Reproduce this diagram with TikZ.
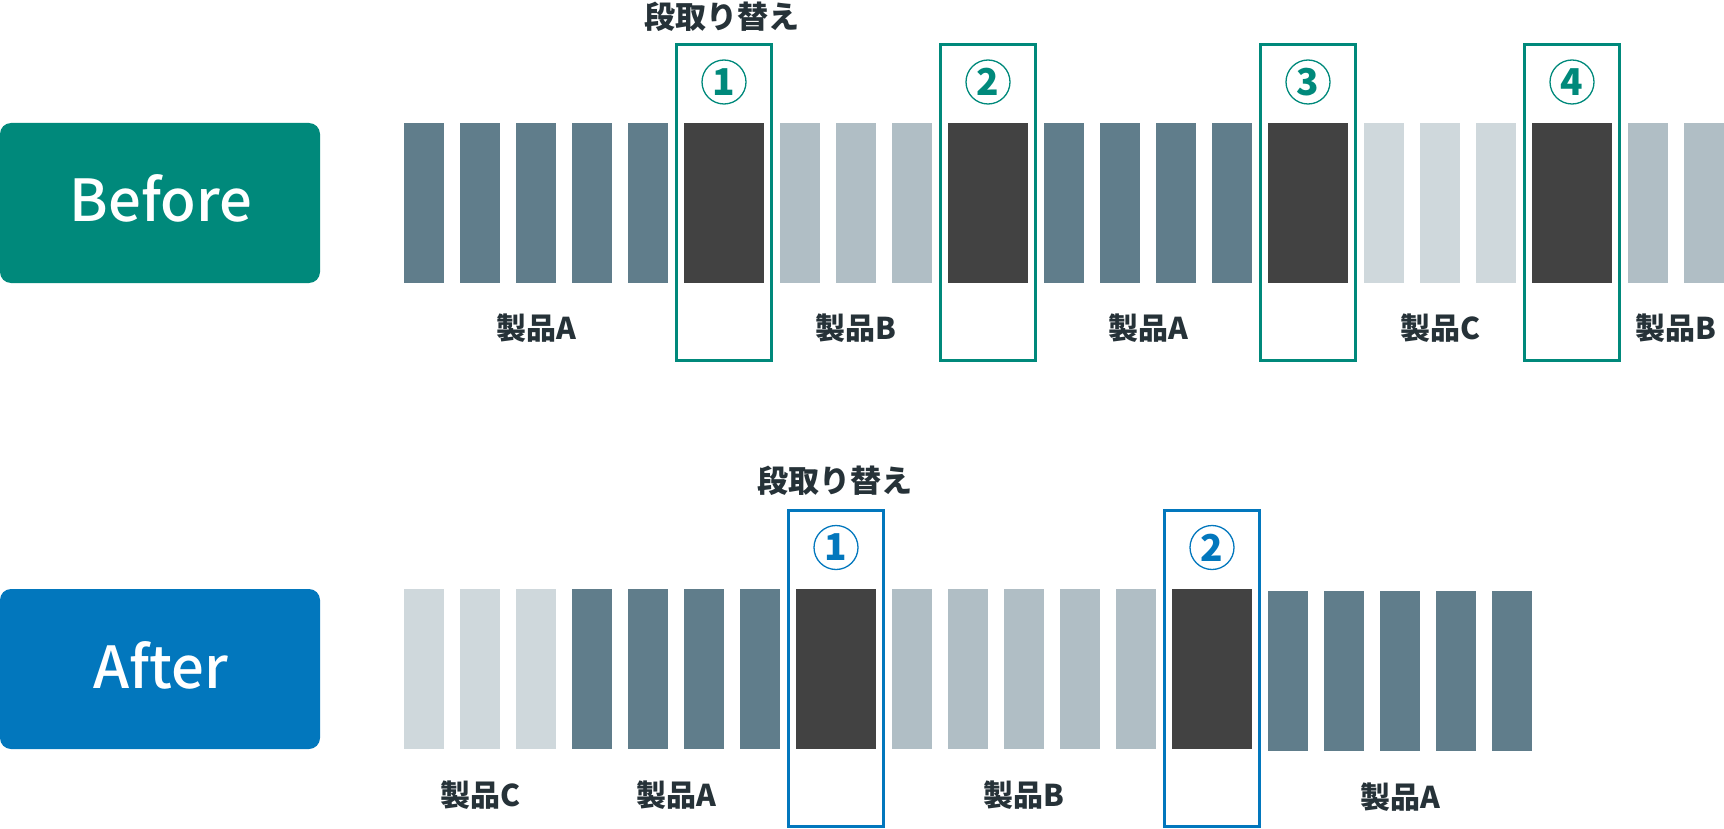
\documentclass[tikz,border=0pt]{standalone}
\usepackage{fontspec}
\setmainfont{Noto Sans CJK JP}
\newfontfamily\jpmed{Noto Sans CJK JP Medium}
\definecolor{tealG}{HTML}{00897B}
\definecolor{blueA}{HTML}{0277BD}
\definecolor{barA}{HTML}{607D8B}
\definecolor{barB}{HTML}{B0BEC5}
\definecolor{barC}{HTML}{CFD8DC}
\definecolor{barD}{HTML}{424242}
\definecolor{txt}{HTML}{263238}
\begin{document}
\begin{tikzpicture}[x=1pt,y=-1pt,
  bar/.style={inner sep=0pt, outer sep=0pt, minimum width=40pt, minimum height=160pt, anchor=north west},
  darkbar/.style={bar, minimum width=80pt, fill=barD},
  phase/.style={inner sep=0pt, outer sep=0pt, minimum width=320pt, minimum height=160pt, rounded corners=11pt, anchor=north west},
  phasetext/.style={text=white, font=\jpmed\fontsize{58}{60}\selectfont, anchor=base, inner sep=0pt},
  label/.style={text=txt, font=\fontsize{30}{32}\selectfont\bfseries, anchor=base, inner sep=0pt},
  swaptext/.style={text=txt, font=\fontsize{31}{34}\selectfont\bfseries, inner sep=0pt},
  swapbox/.style={line width=3pt, minimum width=95pt, inner sep=0pt, outer sep=0pt},
  numcirc/.style={circle, line width=1.3pt, minimum size=44pt, inner sep=0pt, font=\fontsize{37}{40}\selectfont\bfseries}
]
\useasboundingbox (0,0) rectangle (1724,829);

% ---------- Before ----------
\node[phase, fill=tealG] (before) at (0,123) {};
\node[phasetext] (beforet) at (161,222) {Before};

\foreach \x [count=\i] in {404,460,516,572,628} \node[bar, fill=barA] (bA\i) at (\x,123) {};
\node[darkbar] (bD1) at (684,123) {};
\foreach \x [count=\i] in {780,836,892} \node[bar, fill=barB] (bB\i) at (\x,123) {};
\node[darkbar] (bD2) at (948,123) {};
\foreach \x [count=\i] in {1044,1100,1156,1212} \node[bar, fill=barA] (bAA\i) at (\x,123) {};
\node[darkbar] (bD3) at (1268,123) {};
\foreach \x [count=\i] in {1364,1420,1476} \node[bar, fill=barC] (bC\i) at (\x,123) {};
\node[darkbar] (bD4) at (1532,123) {};
\foreach \x [count=\i] in {1628,1684} \node[bar, fill=barB] (bBB\i) at (\x,123) {};

\foreach \c [count=\i] in {724,988,1308,1572} {
  \node[swapbox, draw=tealG, minimum height=316pt] (bbox\i) at (\c,202.5) {};
  \node[circle, draw=tealG, line width=1.3pt, minimum size=44pt, inner sep=0pt] (bn\i) at (\c,82) {};
  \node[text=tealG, font=\fontsize{37}{40}\selectfont\bfseries, inner sep=0pt] (bnt\i) at (bn\i.center) {\i};
}
\node[swaptext] (bswap) at (722,16.5) {段取り替え};

\node[label] (blA) at (536,339) {製品A};
\node[label] (blB) at (856,339) {製品B};
\node[label] (blAA) at (1148,339) {製品A};
\node[label] (blC) at (1440,339) {製品C};
\node[label] (blBB) at (1676,339) {製品B};

% ---------- After ----------
\node[phase, fill=blueA] (after) at (0,589) {};
\node[phasetext] (aftert) at (161,688) {After};

\foreach \x [count=\i] in {404,460,516} \node[bar, fill=barC] (aC\i) at (\x,589) {};
\foreach \x [count=\i] in {572,628,684,740} \node[bar, fill=barA] (aA\i) at (\x,589) {};
\node[darkbar] (aD1) at (796,589) {};
\foreach \x [count=\i] in {892,948,1004,1060,1116} \node[bar, fill=barB] (aB\i) at (\x,589) {};
\node[darkbar] (aD2) at (1172,589) {};
\foreach \x [count=\i] in {1268,1324,1380,1436,1492} \node[bar, fill=barA] (aAA\i) at (\x,591) {};

\foreach \c [count=\i] in {836,1212} {
  \node[swapbox, draw=blueA, minimum height=316pt] (abox\i) at (\c,668.5) {};
  \node[circle, draw=blueA, line width=1.3pt, minimum size=44pt, inner sep=0pt] (an\i) at (\c,547.5) {};
  \node[text=blueA, font=\fontsize{37}{40}\selectfont\bfseries, inner sep=0pt] (ant\i) at (an\i.center) {\i};
}
\node[swaptext] (aswap) at (835,481) {段取り替え};

\node[label] (alC) at (480,806) {製品C};
\node[label] (alA) at (676,806) {製品A};
\node[label] (alB) at (1024,806) {製品B};
\node[label] (alAA) at (1400,808) {製品A};
\end{tikzpicture}
\end{document}
